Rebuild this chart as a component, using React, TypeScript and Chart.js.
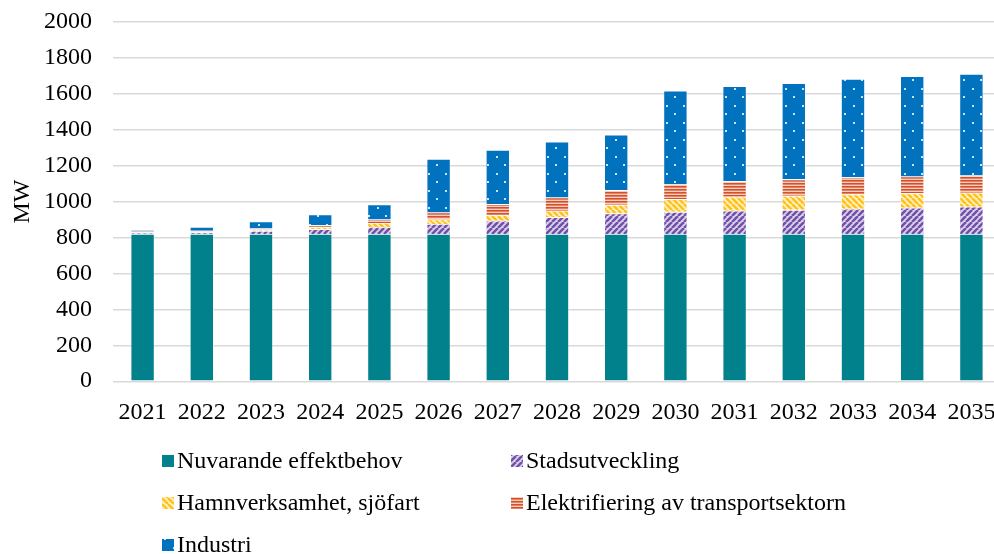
import React, { useEffect, useRef } from 'react';
import { Chart, registerables } from 'chart.js';

Chart.register(...registerables);

const years = ['2021', '2022', '2023', '2024', '2025', '2026', '2027', '2028', '2029', '2030', '2031', '2032', '2033', '2034', '2035'];
const seriesNames = ['Nuvarande effektbehov', 'Stadsutveckling', 'Hamnverksamhet, sjöfart', 'Elektrifiering av transportsektorn', 'Industri'];
const nuvarande = [820, 820, 820, 820, 820, 820, 820, 820, 820, 820, 820, 820, 820, 820, 820];
const stadsutveckling = [6, 8, 17, 26, 39, 55, 74, 93, 114, 123, 129, 134, 140, 146, 151];
const hamnverksamhet = [5, 5, 7, 13, 22, 26, 32, 36, 48, 71, 78, 78, 80, 80, 78];
const elektrifiering = [3, 4, 6, 9, 19, 38, 59, 74, 82, 84, 87, 92, 95, 94, 97];
const industri = [8, 22, 39, 61, 84, 299, 303, 311, 309, 520, 529, 535, 548, 558, 565];
const yMin = 0;
const yMax = 2000;
const yStep = 200;
const yTitle = 'MW';

const FONT = '"Liberation Serif", "Times New Roman", serif';

function makePattern(w: number, h: number, draw: (ctx: CanvasRenderingContext2D) => void): CanvasPattern | string {
  const c = document.createElement('canvas');
  c.width = w;
  c.height = h;
  const ctx = c.getContext('2d');
  if (!ctx) return '#888';
  draw(ctx);
  return ctx.createPattern(c, 'repeat') || '#888';
}

function buildFills() {
  const teal = '#01818B';
  const stad = makePattern(6, 6, (ctx) => {
    ctx.fillStyle = '#DCD3EC';
    ctx.fillRect(0, 0, 6, 6);
    ctx.strokeStyle = '#7251A9';
    ctx.lineWidth = 2.6;
    ctx.beginPath();
    for (const k of [-6, 0, 6]) {
      ctx.moveTo(k, 6);
      ctx.lineTo(k + 6, 0);
    }
    ctx.stroke();
  });
  const hamn = makePattern(6, 6, (ctx) => {
    ctx.fillStyle = '#FFF1C6';
    ctx.fillRect(0, 0, 6, 6);
    ctx.strokeStyle = '#FFC21A';
    ctx.lineWidth = 2.6;
    ctx.beginPath();
    for (const k of [-6, 0, 6]) {
      ctx.moveTo(k, 0);
      ctx.lineTo(k + 6, 6);
    }
    ctx.stroke();
  });
  const elek = makePattern(4, 3, (ctx) => {
    ctx.fillStyle = '#F7CDBE';
    ctx.fillRect(0, 0, 4, 3);
    ctx.fillStyle = '#D4502B';
    ctx.fillRect(0, 0, 4, 1.6);
  });
  const ind = makePattern(17, 17, (ctx) => {
    ctx.fillStyle = '#0172BD';
    ctx.fillRect(0, 0, 17, 17);
    ctx.fillStyle = '#CDE5F6';
    ctx.fillRect(3, 3, 2, 2);
    ctx.fillRect(11, 11, 2, 2);
  });
  return [teal, stad, hamn, elek, ind];
}

const legendPlugin = {
  id: 'gridLegend',
  afterDraw(chart: any) {
    const ctx: CanvasRenderingContext2D = chart.ctx;
    const cols = [162, 511];
    const rows = [461, 503, 545];
    ctx.save();
    ctx.font = `24px ${FONT}`;
    ctx.textBaseline = 'middle';
    ctx.textAlign = 'left';
    chart.data.datasets.forEach((ds: any, i: number) => {
      const x = cols[i % 2];
      const y = rows[Math.floor(i / 2)];
      ctx.fillStyle = ds.backgroundColor;
      ctx.fillRect(x, y - 6, 12, 12);
      ctx.fillStyle = '#000';
      ctx.fillText(ds.label, x + 15, y + 1);
    });
    ctx.restore();
  },
};

export default function App() {
  const ref = useRef<HTMLCanvasElement | null>(null);
  useEffect(() => {
    if (!ref.current) return;
    const fills = buildFills();
    const values = [nuvarande, stadsutveckling, hamnverksamhet, elektrifiering, industri];
    const chart = new Chart(ref.current, {
      type: 'bar',
      data: {
        labels: years,
        datasets: seriesNames.map((name, i) => ({
          label: name,
          data: values[i],
          backgroundColor: fills[i] as any,
          borderColor: 'rgba(255,255,255,0.45)',
          borderWidth: 0.8,
          barPercentage: 0.405,
          categoryPercentage: 1,
        })),
      },
      options: {
        animation: false,
        responsive: true,
        maintainAspectRatio: false,
        layout: { padding: { left: 8, right: 0, top: 22, bottom: 110 } },
        plugins: {
          legend: { display: false },
          tooltip: { enabled: false },
        },
        scales: {
          x: {
            stacked: true,
            afterFit: (scale: any) => {
              scale.paddingLeft = 0;
              scale.paddingRight = 0;
            },
            grid: { display: false, drawTicks: false },
            border: { display: false },
            ticks: { color: '#000', font: { family: FONT, size: 24 }, padding: 17, maxRotation: 0, autoSkip: false },
          },
          y: {
            stacked: true,
            min: yMin,
            max: yMax,
            afterFit: (scale: any) => {
              scale.width = 105;
              scale.paddingTop = 0;
              scale.paddingBottom = 0;
            },
            grid: { color: '#D9D9D9', lineWidth: 1.4, drawTicks: false },
            border: { display: false },
            ticks: {
              stepSize: yStep,
              color: '#000',
              font: { family: FONT, size: 24 },
              padding: 21,
              callback: (v: any) => String(v),
            },
            title: { display: true, text: yTitle, color: '#000', font: { family: FONT, size: 24 }, padding: 0 },
          },
        },
      },
      plugins: [legendPlugin],
    });
    return () => chart.destroy();
  }, []);
  return (
    <div style={{ position: 'fixed', left: 0, top: 0, width: 994, height: 554, overflow: 'hidden', background: '#fff' }}>
      <div style={{ position: 'relative', width: 1001, height: 554 }}>
        <canvas ref={ref} />
      </div>
    </div>
  );
}
